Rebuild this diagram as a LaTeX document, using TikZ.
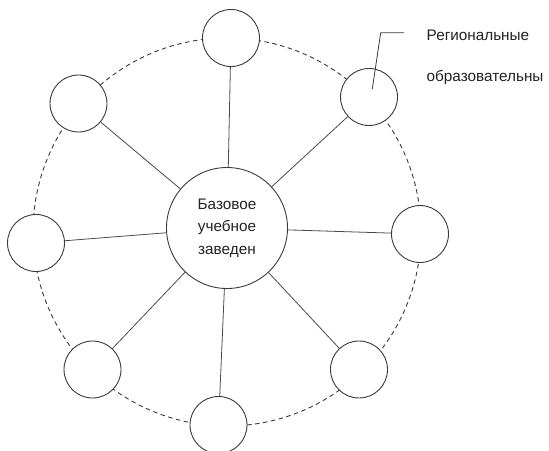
\documentclass[tikz,border=0pt]{standalone}
\usepackage{fontspec}
\setmainfont{Liberation Sans}
\definecolor{stroke}{HTML}{3A3A3A}
\definecolor{spoke}{HTML}{4A4A4A}
\definecolor{txt}{HTML}{222222}
\begin{document}
\begin{tikzpicture}[x=1pt,y=-1pt,
  sat/.style={circle,draw=stroke,line width=0.9pt,fill=white,minimum size=57pt,inner sep=0pt},
  hub/.style={circle,draw=stroke,line width=0.9pt,fill=white,minimum size=121pt,inner sep=0pt,
    align=center,text=txt,font=\fontsize{15.3}{22.5}\selectfont},
  spokeline/.style={draw=spoke,line width=0.8pt},
  ring/.style={draw=stroke,line width=0.9pt,dash pattern=on 4.5pt off 3.5pt},
  lbl/.style={anchor=base west,inner sep=0pt,text=txt,font=\fontsize{15.3}{17}\selectfont},
  leader/.style={draw=stroke,line width=0.8pt}]
\useasboundingbox[fill=white] (0,0) rectangle (549,450);
\draw[ring] (227,232) circle[radius=194];
\node[hub] (c) at (227,228) {Базовое\\учебное\\заведен};
\node[sat] (t) at (231,38) {};
\node[sat] (tr) at (369,97) {};
\node[sat] (r) at (420,234) {};
\node[sat] (br) at (359,369.5) {};
\node[sat] (b) at (218.5,425) {};
\node[sat] (bl) at (92.5,369.5) {};
\node[sat] (l) at (36,243) {};
\node[sat] (tl) at (78.5,103.5) {};
\foreach \s in {t,tr,r,br,b,bl,l,tl}{\draw[spokeline] (c) -- (\s);}
\coordinate (p0) at (372.3,89);
\coordinate (p1) at (380.7,32.7);
\coordinate (p2) at (404,32.7);
\draw[leader] (p0) -- (p1) -- (p2);
\node[lbl] (l1) at (426.5,40.7) {Региональные};
\node[lbl] (l2) at (426.5,81) {образовательны};
\end{tikzpicture}
\end{document}
